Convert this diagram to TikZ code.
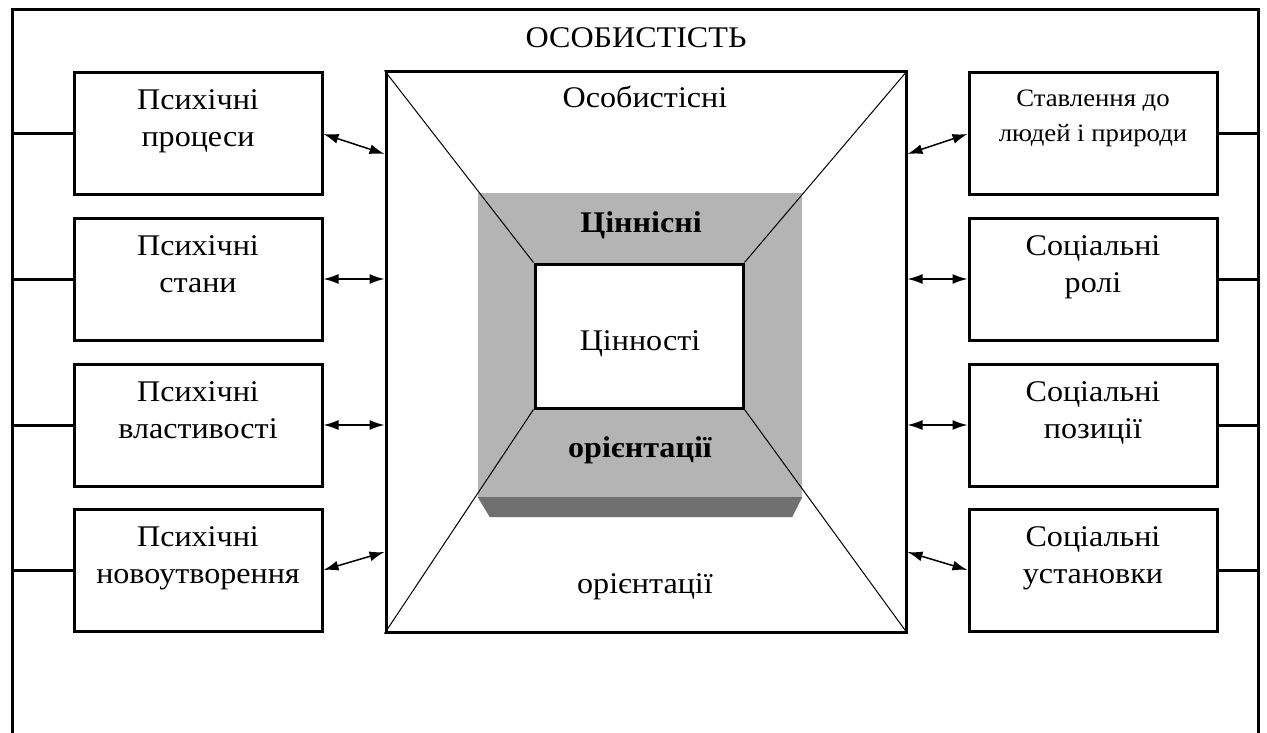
\documentclass[tikz,border=0pt]{standalone}
\usepackage{fontspec}
\setmainfont[FakeStretch=1.07]{Liberation Serif}
\usetikzlibrary{arrows.meta,calc}
\definecolor{shadefill}{RGB}{180,180,180}
\definecolor{shadowgray}{RGB}{112,112,112}
\begin{document}
\begin{tikzpicture}[x=1pt,y=-1pt,
  outerframe/.style={draw,line width=3pt,minimum width=1246pt,minimum height=760pt,inner sep=0pt},
  sidebox/.style={draw,line width=3pt,minimum width=248pt,minimum height=122pt,inner sep=0pt},
  centerbox/.style={draw,line width=3pt,minimum width=520pt,minimum height=560pt,inner sep=0pt},
  innerbox/.style={draw,fill=white,line width=3pt,minimum width=208pt,minimum height=144pt,inner sep=0pt},
  shadebox/.style={fill=shadefill,minimum width=324pt,minimum height=304pt,inner sep=0pt},
  lbl/.style={font=\fontsize{30}{37}\selectfont,align=center,anchor=base,inner sep=0pt},
  smalllbl/.style={font=\fontsize{25}{35}\selectfont,align=center,anchor=base,inner sep=0pt},
  boldlbl/.style={font=\fontsize{30}{37}\selectfont\bfseries,anchor=base,inner sep=0pt},
  link/.style={line width=3pt},
  arr/.style={line width=1.5pt,{Latex[length=15pt,width=10pt]}-{Latex[length=15pt,width=10pt]}},
  diag/.style={line width=1pt}]
\useasboundingbox (0,0) rectangle (1267,733);
% outer frame (bottom edge lies outside the picture)
\node[outerframe] (outer) at (635,390) {};
% side boxes
\node[sidebox] (l1) at (198,134) {};
\node[sidebox] (l2) at (198,279) {};
\node[sidebox] (l3) at (198,425) {};
\node[sidebox] (l4) at (198,570) {};
\node[sidebox] (r1) at (1093,134) {};
\node[sidebox] (r2) at (1093,279) {};
\node[sidebox] (r3) at (1093,425) {};
\node[sidebox] (r4) at (1093,570) {};
% centre
\node[centerbox] (c) at (646,352) {};
\node[shadebox] (sh) at (640,345) {};
\fill[shadowgray] (sh.south west) -- (sh.south east) -- ++(-10,20) -- ($(sh.south west)+(12,20)$) -- cycle;
\node[innerbox] (in) at (639,336) {};
\draw[diag] (c.north west) -- (in.north west);
\draw[diag] (c.north east) -- (in.north east);
\draw[diag] (c.south west) -- (in.south west);
\draw[diag] (c.south east) -- (in.south east);
\node[innerbox,fill=none] (in2) at (639,336) {};
% links to the frame
\foreach \b in {l1,l2,l3,l4}{\draw[link] (\b.west) -- (\b.west -| outer.west);}
\foreach \b in {r1,r2,r3,r4}{\draw[link] (\b.east) -- (\b.east -| outer.east);}
% arrows
\draw[arr] (l1.east) -- ($(l1.east -| c.west)+(0,20)$);
\draw[arr] (l2.east) -- (l2.east -| c.west);
\draw[arr] (l3.east) -- (l3.east -| c.west);
\draw[arr] (l4.east) -- ($(l4.east -| c.west)+(0,-18)$);
\draw[arr] ($(r1.west -| c.east)+(0,20)$) -- (r1.west);
\draw[arr] (r2.west -| c.east) -- (r2.west);
\draw[arr] (r3.west -| c.east) -- (r3.west);
\draw[arr] ($(r4.west -| c.east)+(0,-18)$) -- (r4.west);
% texts
\node[lbl] (title) at (636,48) {ОСОБИСТІСТЬ};
\node[lbl] (t1) at (645,108) {Особистісні};
\node[boldlbl] (t2) at (641,233) {Ціннісні};
\node[lbl] (t3) at (640,350) {Цінності};
\node[boldlbl] (t4) at (640,457) {орієнтації};
\node[lbl] (t5) at (645,593) {орієнтації};
\node[lbl] at ($(l1.center)+(0,13)$) {Психічні\\процеси};
\node[lbl] at ($(l2.center)+(0,13)$) {Психічні\\стани};
\node[lbl] at ($(l3.center)+(0,13)$) {Психічні\\властивості};
\node[lbl] at ($(l4.center)+(0,13)$) {Психічні\\новоутворення};
\node[smalllbl] at ($(r1.center)+(0,8)$) {Ставлення до\\людей і природи};
\node[lbl] at ($(r2.center)+(0,13)$) {Соціальні\\ролі};
\node[lbl] at ($(r3.center)+(0,13)$) {Соціальні\\позиції};
\node[lbl] at ($(r4.center)+(0,13)$) {Соціальні\\установки};
\end{tikzpicture}
\end{document}
